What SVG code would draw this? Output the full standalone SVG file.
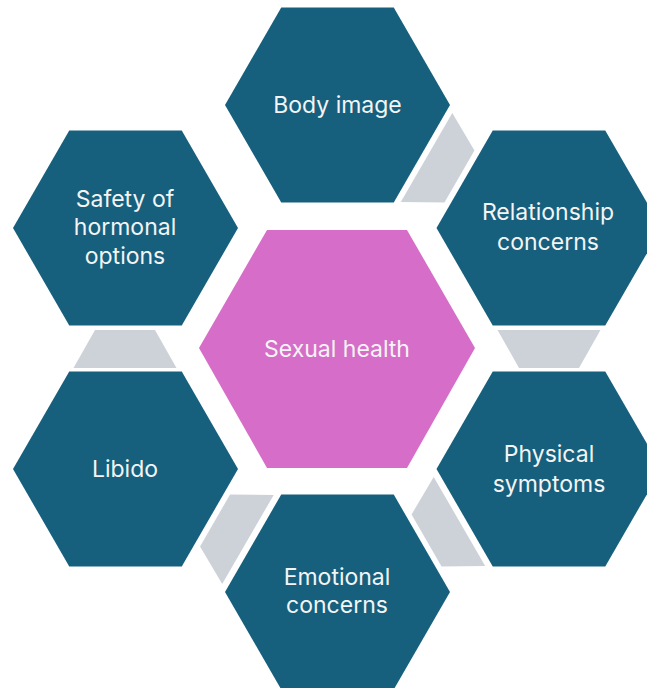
<svg xmlns="http://www.w3.org/2000/svg" width="647" height="688" viewBox="0 0 647 688">
  <style>
    .hex { fill: #16607E; }
    .hub { fill: #D66DC8; }
    .link { fill: #CDD2D9; }
    .lbl { font-family: Inter, "Open Sans", "Liberation Sans", sans-serif; font-size: 23px; fill: #F4F4F4; text-anchor: middle; }
  </style>
  <defs>
    <!-- flat-top hexagon, width 225 -->
    <polygon id="hexShape" points="-112.5,0 -56.25,-97.5 56.25,-97.5 112.5,0 56.25,97.5 -56.25,97.5"/>
    <!-- connector trapezoid, narrow side at top -->
    <polygon id="linkShape" points="-30,-19 30,-19 51.5,19 -51.5,19"/>
  </defs>

  <g id="connectors">
    <use href="#linkShape" class="link" transform="translate(443,167) rotate(120)"/>
    <use href="#linkShape" class="link" transform="translate(549,349) rotate(180)"/>
    <use href="#linkShape" class="link" transform="translate(443,531) rotate(240)"/>
    <use href="#linkShape" class="link" transform="translate(231.5,530) rotate(300)"/>
    <use href="#linkShape" class="link" transform="translate(125,349)"/>
  </g>

  <g id="sexual-health">
    <polygon class="hub" points="199,348 267,230 407,230 475,348 407,468 267,468"/>
    <text class="lbl" x="337" y="357">Sexual health</text>
  </g>

  <g id="body-image">
    <use href="#hexShape" class="hex" transform="translate(337.5,105)"/>
    <text class="lbl" x="337.5" y="113">Body image</text>
  </g>

  <g id="relationship-concerns">
    <use href="#hexShape" class="hex" transform="translate(549,228)"/>
    <text class="lbl" x="548" y="220">Relationship</text>
    <text class="lbl" x="548" y="250">concerns</text>
  </g>

  <g id="physical-symptoms">
    <use href="#hexShape" class="hex" transform="translate(549,469)"/>
    <text class="lbl" x="549" y="462">Physical</text>
    <text class="lbl" x="549" y="492">symptoms</text>
  </g>

  <g id="emotional-concerns">
    <use href="#hexShape" class="hex" transform="translate(337.5,592)"/>
    <text class="lbl" x="337" y="585">Emotional</text>
    <text class="lbl" x="337" y="613">concerns</text>
  </g>

  <g id="libido">
    <use href="#hexShape" class="hex" transform="translate(125.5,469)"/>
    <text class="lbl" x="125" y="477">Libido</text>
  </g>

  <g id="safety-of-hormonal-options">
    <use href="#hexShape" class="hex" transform="translate(125.5,228)"/>
    <text class="lbl" x="125" y="207">Safety of</text>
    <text class="lbl" x="125" y="235">hormonal</text>
    <text class="lbl" x="125" y="264">options</text>
  </g>
</svg>
